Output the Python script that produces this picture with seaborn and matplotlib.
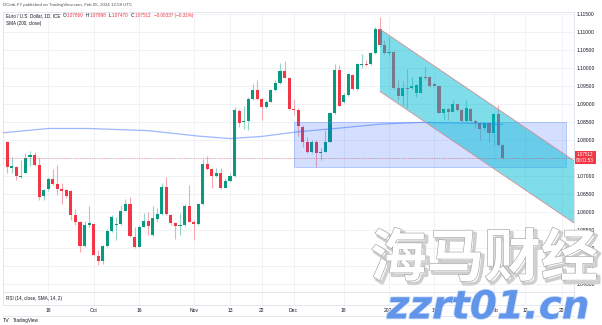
import numpy as np
import pandas as pd
import matplotlib
matplotlib.use("Agg")
import matplotlib.pyplot as plt
import matplotlib.patheffects as pe
from matplotlib.patches import Rectangle, Polygon
from matplotlib.lines import Line2D
import seaborn as sns

sns.set_theme(style="white")
plt.rcParams['font.family'] = ['Liberation Sans', 'DejaVu Sans', 'Noto Sans CJK SC']

# ---------------- data (EUR/USD daily) ----------------
first_day = "2023-09-05"

opens = [
    1.0794, 1.0722, 1.0725, 1.0696, 1.0708, 1.0753, 1.0758, 1.0731, 1.0644, 1.0664,
    1.0692, 1.0678, 1.0664, 1.0661, 1.0658, 1.0592, 1.0571, 1.0506, 1.0564, 1.0567,
    1.0479, 1.0465, 1.0506, 1.0547, 1.0565, 1.0567, 1.0604, 1.0621, 1.0531, 1.0504,
    1.0559, 1.0576, 1.0536, 1.0581, 1.0594, 1.0670, 1.0592, 1.0569, 1.0562, 1.0563,
    1.0617, 1.0573, 1.0567, 1.0621, 1.0733, 1.0719, 1.0701, 1.0709, 1.0668, 1.0686,
    1.0700, 1.0881, 1.0850, 1.0854, 1.0913, 1.0939, 1.0913, 1.0891, 1.0906, 1.0939,
    1.0957, 1.0993, 1.0971, 1.0886, 1.0883, 1.0837, 1.0795, 1.0766, 1.0795, 1.0765,
    1.0767, 1.0795, 1.0874, 1.0994, 1.0905, 1.0925, 1.0981, 1.0942, 1.1008, 1.1011,
    1.1011, 1.1041, 1.1108, 1.1064, 1.1041, 1.1045, 1.0944, 1.0922, 1.0945, 1.0944,
    1.0931, 1.0931, 1.0974, 1.0974, 1.0955, 1.0950, 1.0876, 1.0885, 1.0879, 1.0899,
    1.0883, 1.0854, 1.0885, 1.0854, 1.0846, 1.0833, 1.0846, 1.0819, 1.0871, 1.07860,
]
highs = [
    1.0797, 1.0753, 1.0728, 1.0744, 1.0764, 1.0769, 1.0767, 1.0753, 1.0664, 1.0697,
    1.0719, 1.0731, 1.0681, 1.0664, 1.0661, 1.0608, 1.0575, 1.0575, 1.0617, 1.0569,
    1.0494, 1.0508, 1.0553, 1.0592, 1.0587, 1.0619, 1.0636, 1.0642, 1.0559, 1.0564,
    1.0597, 1.0600, 1.0617, 1.0611, 1.0680, 1.0696, 1.0594, 1.0572, 1.0598, 1.0622,
    1.0675, 1.0578, 1.0625, 1.0748, 1.0756, 1.0722, 1.0722, 1.0721, 1.0694, 1.0708,
    1.0891, 1.0886, 1.0894, 1.0919, 1.0956, 1.0967, 1.0917, 1.0911, 1.0942, 1.0967,
    1.1013, 1.1019, 1.0975, 1.0914, 1.0889, 1.0842, 1.0809, 1.0800, 1.0800, 1.0779,
    1.0828, 1.0878, 1.1011, 1.1008, 1.0931, 1.0986, 1.0983, 1.1014, 1.1038, 1.1022,
    1.1044, 1.1114, 1.1143, 1.1078, 1.1086, 1.1047, 1.0967, 1.0965, 1.0996, 1.0975,
    1.0956, 1.0978, 1.1004, 1.0978, 1.0958, 1.0953, 1.0889, 1.0889, 1.0911, 1.0903,
    1.0886, 1.0911, 1.0889, 1.0858, 1.0850, 1.0850, 1.0850, 1.0875, 1.0897, 1.07898,
]
lows = [
    1.0708, 1.0708, 1.0689, 1.0694, 1.0707, 1.0728, 1.0728, 1.0633, 1.0633, 1.0658,
    1.0675, 1.0647, 1.0622, 1.0639, 1.0578, 1.0564, 1.0489, 1.0503, 1.0558, 1.0478,
    1.0453, 1.0456, 1.0503, 1.0544, 1.0522, 1.0564, 1.0603, 1.0530, 1.0500, 1.0503,
    1.0557, 1.0536, 1.0533, 1.0573, 1.0592, 1.0592, 1.0564, 1.0524, 1.0536, 1.0561,
    1.0572, 1.0522, 1.0564, 1.0619, 1.0717, 1.0668, 1.0697, 1.0664, 1.0667, 1.0683,
    1.0697, 1.0835, 1.0830, 1.0828, 1.0911, 1.0911, 1.0856, 1.0889, 1.0906, 1.0936,
    1.0956, 1.0972, 1.0883, 1.0869, 1.0811, 1.0781, 1.0764, 1.0764, 1.0726, 1.0744,
    1.0766, 1.0794, 1.0872, 1.0894, 1.0903, 1.0922, 1.0939, 1.0939, 1.0999, 1.1006,
    1.1008, 1.1039, 1.1061, 1.1039, 1.1033, 1.0942, 1.0911, 1.0897, 1.0889, 1.0942,
    1.0920, 1.0931, 1.0967, 1.0947, 1.0947, 1.0875, 1.0856, 1.0856, 1.0878, 1.0881,
    1.0850, 1.0850, 1.0850, 1.0833, 1.0800, 1.0828, 1.0795, 1.0786, 1.0784, 1.07470,
]
closes = [
    1.0725, 1.0728, 1.0700, 1.0699, 1.0750, 1.0758, 1.0731, 1.0642, 1.0661, 1.0692,
    1.0678, 1.0664, 1.0658, 1.0644, 1.0592, 1.0571, 1.0506, 1.0564, 1.0569, 1.0481,
    1.0465, 1.0506, 1.0547, 1.0586, 1.0567, 1.0604, 1.0621, 1.0532, 1.0504, 1.0559,
    1.0576, 1.0561, 1.0582, 1.0594, 1.0670, 1.0594, 1.0569, 1.0562, 1.0563, 1.0617,
    1.0573, 1.0567, 1.0621, 1.0733, 1.0719, 1.0701, 1.0709, 1.0668, 1.0686, 1.0700,
    1.0883, 1.0848, 1.0854, 1.0913, 1.0939, 1.0913, 1.0891, 1.0906, 1.0939, 1.0957,
    1.0993, 1.0973, 1.0886, 1.0883, 1.0839, 1.0795, 1.0766, 1.0795, 1.0765, 1.0767,
    1.0795, 1.0874, 1.0994, 1.0895, 1.0925, 1.0983, 1.0942, 1.1011, 1.1011, 1.1008,
    1.1041, 1.1108, 1.1064, 1.1041, 1.1045, 1.0944, 1.0922, 1.0944, 1.0942, 1.0950,
    1.0953, 1.0974, 1.0971, 1.0950, 1.0950, 1.0876, 1.0885, 1.0879, 1.0899, 1.0883,
    1.0854, 1.0888, 1.0854, 1.0846, 1.0830, 1.0846, 1.0819, 1.0871, 1.07849, 1.07512,
]

# SMA(200) readings at a few bars (bar number from first_day)
sma_bar = [-1, 9, 18, 31, 42, 49, 56, 64, 73, 82, 91, 100, 109]
sma_val = [1.0820, 1.0832, 1.0832, 1.0826, 1.0811, 1.0804, 1.0810,
           1.0823, 1.0833, 1.0844, 1.0849, 1.0847, 1.0843]

price_ticks = [1.040, 1.045, 1.050, 1.055, 1.060, 1.065, 1.070, 1.075,
               1.080, 1.085, 1.090, 1.095, 1.100, 1.105, 1.110, 1.115]
hidden_price_ticks = [1.075]

time_tick_dates = ["2023-09-18", "2023-10-02", "2023-10-16", "2023-11-01", "2023-11-13",
                   "2023-11-22", "2023-12-01", "2023-12-18", "2024-01-01", "2024-01-15",
                   "2024-02-01", "2024-02-12", "2024-02-22"]
time_tick_labels = ["18", "Oct", "16", "Nov", "13", "22", "Dec", "18", "2024", "15",
                    "Feb", "12", "22"]

# drawings
rect_start, rect_end = "2023-12-01", "2024-02-23"
rect_top, rect_bottom = 1.0851, 1.0726
chan_start, chan_end = "2023-12-28", "2024-02-27"
chan_top_start, chan_top_end = 1.1108, 1.0740
chan_width = 0.0173

countdown = "09:01:53"

# ---------------- figure ----------------
calendar = pd.bdate_range(first_day, "2024-03-29")
bar_of = {d.strftime("%Y-%m-%d"): i for i, d in enumerate(calendar)}

n = len(opens)
df = pd.DataFrame(dict(x=np.arange(n), open=opens, high=highs, low=lows, close=closes))
up = (df.close >= df.open).values

W, H = 602, 325
fig = plt.figure(figsize=(W / 100, H / 100), dpi=100)
fig.patch.set_facecolor("white")


def fx(px):
    return px / W


def fy(py):
    return 1 - py / H


ax = fig.add_axes([fx(3), fy(292), fx(574) - fx(3), fy(12) - fy(292)])
rsi = fig.add_axes([fx(3), fy(305), fx(574) - fx(3), fy(292) - fy(305)])

GREEN, RED = '#089981', '#f23645'
GREEN_W, RED_W = '#93d4c8', '#f7a9b1'
DARK = '#131722'
GRID = '#eef0f5'
BORDER = '#e0e3eb'

# candles
ax.vlines(df.x, df.low, df.high, colors=np.where(up, GREEN_W, RED_W), linewidth=0.8, zorder=2)
body_h = np.maximum((df.close - df.open).abs().values, 0.00016)
body_b = np.minimum(df.open.values, df.close.values)
ax.bar(df.x, body_h, bottom=body_b, width=0.68, color=np.where(up, GREEN, RED),
       linewidth=0, zorder=3)

# SMA 200
sns.lineplot(x=sma_bar, y=sma_val, ax=ax, color='#2962ff', alpha=0.45, linewidth=0.9, zorder=4)

# rectangle drawing
x0, x1 = bar_of[rect_start], bar_of[rect_end]
ax.add_patch(Rectangle((x0, rect_bottom), x1 - x0, rect_top - rect_bottom,
                       facecolor=(0.16, 0.38, 1.0, 0.2), edgecolor=(0.35, 0.55, 1.0, 0.45),
                       linewidth=0.6, zorder=5))

# parallel channel drawing
c0, c1 = bar_of[chan_start], bar_of[chan_end]
poly = [(c0, chan_top_start), (c1, chan_top_end),
        (c1, chan_top_end - chan_width), (c0, chan_top_start - chan_width)]
ax.add_patch(Polygon(poly, closed=True, facecolor=(0.0, 0.737, 0.831, 0.5),
                     edgecolor='none', zorder=6))
ax.plot([c0, c1], [chan_top_start, chan_top_end], color='#cf8f98', lw=0.6, zorder=7)
ax.plot([c0, c1], [chan_top_start - chan_width, chan_top_end - chan_width],
        color='#cf8f98', lw=0.6, zorder=7)

# last price line
last_close = closes[-1]
ax.axhline(last_close, color=RED, lw=0.5, ls=(0, (1, 1.5)), alpha=0.7, zorder=8)

# axes styling
xl = (-0.95, 124.7)
ax.set_xlim(*xl)
ax.set_ylim(1.03778, 1.11556)
ax.set_yticks(price_ticks)
ax.set_yticklabels(["" if t in hidden_price_ticks else f"{t:.5f}" for t in price_ticks])
ax.yaxis.tick_right()
ax.tick_params(axis='y', length=0, pad=2, labelsize=3.6, labelcolor=DARK)
tick_pos = [bar_of[d] for d in time_tick_dates]
ax.set_xticks(tick_pos)
ax.set_xticklabels([])
ax.tick_params(axis='x', length=0)
ax.grid(True, color=GRID, lw=0.6)
ax.set_axisbelow(True)
ax.set_xlabel("")
ax.set_ylabel("")
for s in ax.spines.values():
    s.set_color(BORDER)
    s.set_linewidth(0.6)

rsi.set_xlim(*xl)
rsi.set_ylim(0, 1)
rsi.set_yticks([])
rsi.set_xticks(tick_pos)
rsi.set_xticklabels(time_tick_labels)
rsi.tick_params(axis='x', length=0, pad=2.5, labelsize=3.6, labelcolor=DARK)
rsi.grid(True, axis='x', color=GRID, lw=0.6)
rsi.set_axisbelow(True)
for s in rsi.spines.values():
    s.set_color(BORDER)
    s.set_linewidth(0.6)
rsi.text(0.005, 0.5, "RSI (14, close, SMA, 14, 2)", transform=rsi.transAxes,
         fontsize=3.3, va='center', color=DARK)

fig.add_artist(Line2D([fx(3), fx(574)], [fy(316), fy(316)], color=BORDER, lw=0.6))

# last price label on the price scale
ax.text(1.004, last_close, f"{last_close:.5f}\n{countdown}", transform=ax.get_yaxis_transform(),
        ha='left', va='center', fontsize=3.3, color='white', linespacing=1.15,
        bbox=dict(boxstyle='square,pad=0.35', fc=RED, ec='none'), zorder=10, clip_on=False)

# header / legend texts
fig.canvas.draw()
renderer = fig.canvas.get_renderer()


def seq_text(x_px, y_px, pieces, size):
    for s, col, gap in pieces:
        x_px += gap
        t = fig.text(fx(x_px), fy(y_px), s, fontsize=size, color=col, va='center', ha='left')
        x_px = t.get_window_extent(renderer).x1
    return x_px


fig.text(fx(3), fy(5.3), "DCotti-FY published on TradingView.com, Feb 05, 2024 12:58 UTC",
         fontsize=3.2, color='#50535e', va='center', ha='left')

prev_close = closes[-2]
chg = last_close - prev_close
pct = chg / prev_close * 100
fmt = lambda v: f"{v:.5f}".replace("-", "\u2212")
seq_text(6, 15.5, [
    ("Euro / U.S. Dollar, 1D, ICE", DARK, 0),
    ("O", DARK, 2.5), (f"{opens[-1]:.5f}", RED, 0.3),
    ("H", DARK, 2.5), (f"{highs[-1]:.5f}", RED, 0.3),
    ("L", DARK, 2.5), (f"{lows[-1]:.5f}", RED, 0.3),
    ("C", DARK, 2.5), (f"{last_close:.5f}", RED, 0.3),
    (f"{fmt(chg)} ({pct:+.2f}%)".replace("-", "\u2212"), RED, 2.5),
], 3.3)
fig.text(fx(6), fy(23.3), "SMA (200, close)", fontsize=3.3, color=DARK, va='center', ha='left')

# TradingView logo text
seq_text(3, 320.5, [("TV", DARK, 0)], 3.8)
fig.text(fx(13), fy(320.5), "TradingView", fontsize=3.3, color=DARK, va='center', ha='left')

# watermark
fig.text(fx(484), fy(259), "海马财经", fontsize=41, family=['Noto Sans CJK SC'], weight='bold',
         color='white', ha='center', va='center', zorder=20,
         path_effects=[pe.Stroke(linewidth=2.5, foreground='#cfcfcf', offset=(2, -2)),
                       pe.Stroke(linewidth=0.9, foreground='#a6a6a6'), pe.Normal()])
fig.text(fx(488), fy(307.5), "zzrt01.cn", fontsize=28, family=['DejaVu Sans'], weight='bold',
         style='italic', color='#6195ea', ha='center', va='center', zorder=20,
         path_effects=[pe.Stroke(linewidth=1.2, foreground='#d3e1fb'), pe.Normal()])

fig.savefig("out.png", dpi=100)
